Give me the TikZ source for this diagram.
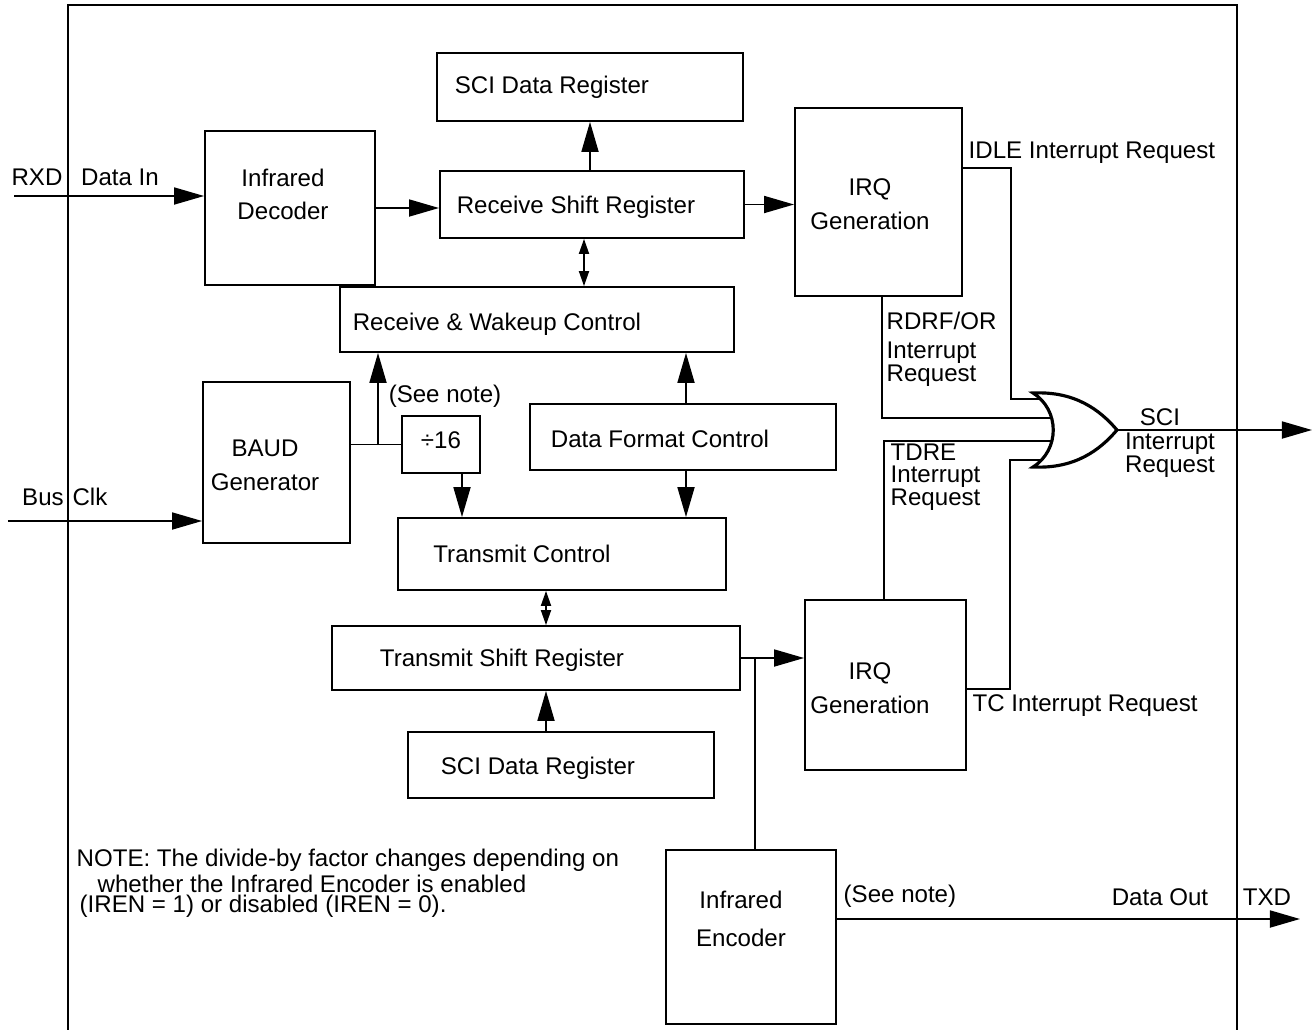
\documentclass[tikz,border=0pt]{standalone}
\usepackage{fontspec}
\setmainfont{Liberation Sans}
\usetikzlibrary{arrows.meta,positioning,calc}

\tikzset{
  blk/.style={draw, line width=0.5pt, inner sep=0pt},
  wire/.style={line width=0.5pt},
  sig/.style={wire, -{Triangle[length=0.3cm,width=0.17cm]}},
  bisig/.style={wire, {Triangle[length=0.15cm,width=0.1cm]}-{Triangle[length=0.15cm,width=0.1cm]}},
  txt/.style={inner sep=0pt, align=left, font=\fontsize{6.85}{6.4}\selectfont},
  two/.style={align=center, font=\fontsize{6.85}{9.6}\selectfont}
}

\begin{document}
\begin{tikzpicture}[x=0.01cm, y=-0.01cm, font=\fontsize{6.85}{8}\selectfont]
\useasboundingbox (0,0) rectangle (1314,1030);

% outer frame
\draw[wire] (68,1031) -- (68,5) -- (1237,5) -- (1237,1031);

% receive side
\node[blk, minimum width=3.06cm, minimum height=0.68cm,
  label={[xshift=-0.38cm]center:SCI Data Register}] (sdrA) at (590,87) {};
\node[blk, minimum width=1.70cm, minimum height=1.54cm,
  label={[two, xshift=-0.07cm, yshift=0.135cm]center:Infrared\\Decoder}] (ird) at (290,208) {};
\node[blk, minimum width=3.04cm, minimum height=0.67cm,
  label={[xshift=-0.16cm, yshift=-0.025cm]center:Receive Shift Register}] (rsr) at (592,204.5) {};
\node[blk, minimum width=1.67cm, minimum height=1.88cm,
  label={[two, xshift=-0.085cm, yshift=-0.025cm]center:IRQ\\Generation}] (irqA) at (878.5,202) {};
\node[blk, minimum width=3.94cm, minimum height=0.65cm,
  label={[xshift=-0.40cm, yshift=-0.045cm]center:Receive \& Wakeup Control}] (rwc) at (537,319.5) {};

% clock and control
\node[blk, minimum width=1.47cm, minimum height=1.61cm,
  label={[two, xshift=-0.115cm, yshift=-0.03cm]center:BAUD\\Generator}] (baud) at (276.5,462.5) {};
\node[blk, minimum width=0.78cm, minimum height=0.57cm,
  label={[yshift=0.045cm]center:÷16}] (div) at (441,444.5) {};
\node[blk, minimum width=3.06cm, minimum height=0.66cm,
  label={[xshift=-0.23cm, yshift=-0.02cm]center:Data Format Control}] (dfc) at (683,437) {};
\node[blk, minimum width=3.28cm, minimum height=0.72cm,
  label={[xshift=-0.40cm]center:Transmit Control}] (txc) at (562,554) {};

% transmit side
\node[blk, minimum width=4.08cm, minimum height=0.64cm,
  label={[xshift=-0.34cm, yshift=-0.02cm]center:Transmit Shift Register}] (tsr) at (536,658) {};
\node[blk, minimum width=3.06cm, minimum height=0.66cm,
  label={[xshift=-0.23cm, yshift=-0.03cm]center:SCI Data Register}] (sdrB) at (561,765) {};
\node[blk, minimum width=1.61cm, minimum height=1.70cm,
  label={[two, xshift=-0.155cm, yshift=-0.03cm]center:IRQ\\Generation}] (irqB) at (885.5,685) {};
\node[blk, minimum width=1.70cm, minimum height=1.74cm,
  label={[align=center, font=\fontsize{6.85}{10.8}\selectfont, xshift=-0.10cm, yshift=0.18cm]center:Infrared\\Encoder}] (ire) at (751,937) {};

% OR gate
\draw[line width=0.9pt] (1033,393) .. controls (1075,391) and (1100,410) .. (1117,430)
  .. controls (1100,450) and (1075,469) .. (1033,467)
  .. controls (1060,450) and (1060,410) .. (1033,393) -- cycle;
\coordinate (g1) at (1040,399);
\coordinate (g2) at (1051,418);
\coordinate (g3) at (1051,441);
\coordinate (g4) at (1040,460);
\coordinate (gout) at (1117,430);

% ends of the outside lines
\coordinate (rxd) at (14,196);
\coordinate (busclk) at (8,521);
\coordinate (txd) at (1300,919);
\coordinate (sciout) at (1312,430);
\coordinate (bj) at (378,445);
\coordinate (tj) at (755,658);

% connectors
\draw[sig] (rxd) -- (rxd -| ird.west);
\draw[sig] (ird.east) -- (ird.east -| rsr.west);
\draw[sig] (rsr.north -| sdrA.south) -- (sdrA.south);
\draw[sig] (rsr.east) -- (rsr.east -| irqA.west);
\draw[bisig] (584,0 |- rsr.south) -- (584,0 |- rwc.north);
\draw[sig] (686,0 |- dfc.north) -- (686,0 |- rwc.south);
\draw[sig] (686,0 |- dfc.south) -- (686,0 |- txc.north);
\draw[sig] (busclk) -- (busclk -| baud.west);
\draw[wire] (div.west -| baud.east) -- (div.west);
\draw[sig] (bj) -- (bj |- rwc.south);
\draw[sig] (462,0 |- div.south) -- (462,0 |- txc.north);
\draw[bisig] (546,0 |- txc.south) -- (546,0 |- tsr.north);
\draw[sig] (546,0 |- sdrB.north) -- (546,0 |- tsr.south);
\draw[sig] (tsr.east) -- (tsr.east -| irqB.west);
\draw[wire] (tj) -- (tj |- ire.north);
\draw[sig] (txd -| ire.east) -- (txd);

% interrupt requests into the gate
\draw[wire] (irqA.east |- 0,168) -- (1011,168) |- (g1);
\draw[wire] (882,0 |- irqA.south) |- (g2);
\draw[wire] (884,0 |- irqB.north) |- (g3);
\draw[wire] (irqB.east |- 0,689) -- (1010,689) |- (g4);
\draw[sig] (gout) -- (sciout);

% labels
\node (lrxd) at (37,177) {RXD};
\node (ldin) at (120,177) {Data In};
\node (lbus) at (43,497) {Bus};
\node (lclk) at (90,497) {Clk};
\node (lnoteA) at (445,396) {(See note)};
\node[txt, anchor=west] (lidle) at (968,153) {IDLE Interrupt Request};
\node[txt, anchor=west] (lrdrf) at (886,349) {RDRF/OR\\[2pt]Interrupt\\Request};
\node[txt, anchor=west] (ltdre) at (890,477) {TDRE\\Interrupt\\Request};
\node[txt, anchor=west] (ltc) at (972,706) {TC Interrupt Request};
\node (lsci) at (1160,417) {SCI};
\node[txt, align=center] (lsciir) at (1170,455) {Interrupt\\Request};
\node[txt, anchor=west] (lnoteB) at (843,896) {(See note)};
\node (ldout) at (1160,897) {Data Out};
\node (ltxd) at (1267,897) {TXD};
\node[txt, anchor=west] (lnote1) at (76,860) {NOTE: The divide-by factor changes depending on};
\node[txt, anchor=west] (lnote2) at (97,884) {whether the Infrared Encoder is enabled};
\node[txt, anchor=west] (lnote3) at (79,906) {(IREN = 1) or disabled (IREN = 0).};
\end{tikzpicture}
\end{document}
